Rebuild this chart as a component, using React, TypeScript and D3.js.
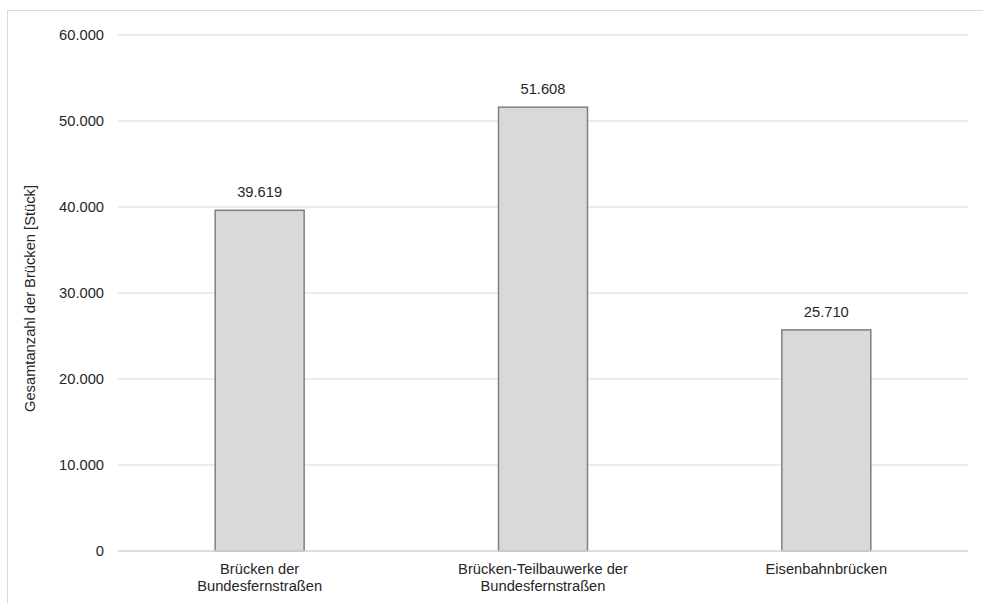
import React from "react";
import * as d3 from "d3";

const categories: string[][] = [
  ["Brücken der", "Bundesfernstraßen"],
  ["Brücken-Teilbauwerke der", "Bundesfernstraßen"],
  ["Eisenbahnbrücken"],
];
const counts: number[] = [39619, 51608, 25710];
const yTicks: number[] = [0, 10000, 20000, 30000, 40000, 50000, 60000];
const yTitle = "Gesamtanzahl der Brücken [Stück]";

const W = 983;
const H = 603;
const FONT = "'Liberation Sans', Arial, Helvetica, sans-serif";
const FS = 14.7;

const fmt = (v: number) => (v === 0 ? "0" : d3.format(",")(v).replace(/,/g, "."));

export default function App() {
  const left = 118;
  const right = 968;
  const top = 35;
  const bottom = 551;

  const x = d3
    .scaleBand<number>()
    .domain(counts.map((_, i) => i))
    .range([left, right])
    .paddingInner(0.686)
    .paddingOuter(0.343);
  const y = d3.scaleLinear().domain([0, 60000]).range([bottom, top]);

  return (
    <svg
      width={W}
      height={H}
      style={{ position: "fixed", left: 0, top: 0, background: "#fff" }}
      fontFamily={FONT}
    >
      {/* outer frame */}
      <rect x={7.5} y={10.5} width={W + 20} height={H + 20} fill="#fff" stroke="#d9d9d9" strokeWidth={1} />

      {/* gridlines and tick labels */}
      {yTicks.map((t) => (
        <g key={t}>
          <line x1={left} x2={right} y1={y(t)} y2={y(t)} stroke="#d9d9d9" strokeWidth={1} />
          <text x={104} y={y(t)} dy="0.35em" textAnchor="end" fontSize={FS} fill="#262626">
            {fmt(t)}
          </text>
        </g>
      ))}

      {/* bars */}
      {counts.map((v, i) => (
        <g key={i}>
          <rect
            x={x(i)!}
            y={y(v)}
            width={x.bandwidth()}
            height={bottom - y(v)}
            fill="#d9d9d9"
            stroke="#7f7f7f"
            strokeWidth={1.5}
          />
          <text
            x={x(i)! + x.bandwidth() / 2}
            y={y(v) - 13}
            textAnchor="middle"
            fontSize={FS}
            fill="#262626"
          >
            {fmt(v)}
          </text>
        </g>
      ))}

      {/* baseline redrawn above bars */}
      <line x1={left} x2={right} y1={bottom} y2={bottom} stroke="#d9d9d9" strokeWidth={1.5} />

      {/* category labels */}
      {categories.map((lines, i) => (
        <text key={i} textAnchor="middle" fontSize={FS} fill="#262626">
          {lines.map((ln, j) => (
            <tspan key={j} x={x(i)! + x.bandwidth() / 2} y={574 + j * 17}>
              {ln}
            </tspan>
          ))}
        </text>
      ))}

      {/* y-axis title */}
      <text
        transform={`translate(35, 298.5) rotate(-90)`}
        textAnchor="middle"
        fontSize={FS}
        fill="#262626"
      >
        {yTitle}
      </text>
    </svg>
  );
}
